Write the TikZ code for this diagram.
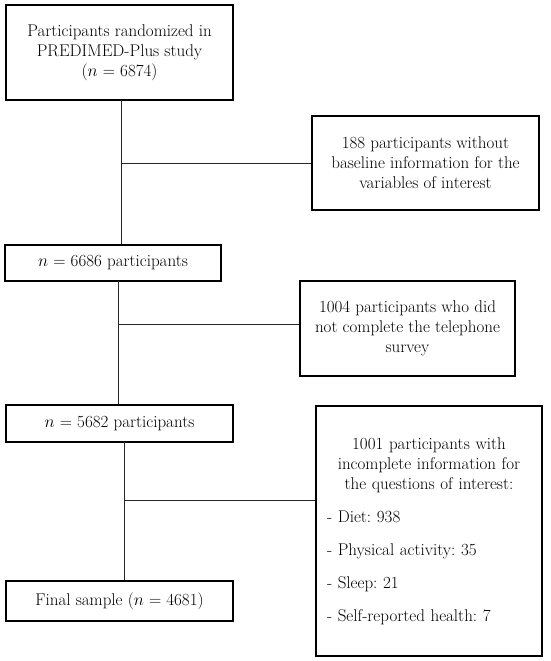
\documentclass[tikz,border=0pt]{standalone}
\usepackage{amsmath}

\tikzset{
  flowbox/.style={draw,line width=1.2pt,align=center,inner sep=2pt,
    font=\fontsize{17}{20}\selectfont\frenchspacing},
  link/.style={line width=0.9pt,black!85}
}

\begin{document}
\begin{tikzpicture}[x=1pt,y=1pt]

\useasboundingbox (0,0) rectangle (550,-661);

% main column
\node[flowbox,minimum width=227pt,minimum height=95pt] (start) at (119.5,-52.5)
  {Participants randomized in\\PREDIMED-Plus study\\($n$ = 6874)};
\node[flowbox,minimum width=216pt,minimum height=36pt] (n6686) at (113,-263)
  {$n$ = 6686 participants};
\node[flowbox,minimum width=227pt,minimum height=37pt] (n5682) at (119.5,-423.5)
  {$n$ = 5682 participants};
\node[flowbox,minimum width=227pt,minimum height=40pt] (final) at (119.5,-601)
  {Final sample ($n$ = 4681)};

% exclusions
\node[flowbox,minimum width=227pt,minimum height=94pt] (excl1) at (425.5,-163)
  {188 participants without\\baseline information for the\\variables of interest};
\node[flowbox,minimum width=215pt,minimum height=95pt] (excl2) at (407.5,-328.5)
  {1004 participants who did\\not complete the telephone\\survey};
\node[flowbox,minimum width=226pt,minimum height=250pt,text width=204pt,align=left] (excl3) at (429,-531)
  {\centering 1001 participants with\\incomplete information for\\the questions of interest:\par
   \raggedright\vspace{13pt}
   - Diet: 938\\[13pt]
   - Physical activity: 35\\[13pt]
   - Sleep: 21\\[13pt]
   - Self-reported health: 7\par};

% connectors
\coordinate (c1) at (121,-100);
\coordinate (c2) at (118,-281);
\coordinate (c3) at (124,-442);
\draw[link] (c1) -- (c1 |- n6686.north);
\draw[link] (c1 |- excl1.west) -- (excl1.west);
\draw[link] (c2) -- (c2 |- n5682.north);
\draw[link] (c2 |- 0,-324) coordinate (b2) -- (b2 -| excl2.west);
\draw[link] (c3) -- (c3 |- final.north);
\draw[link] (c3 |- 0,-500) coordinate (b3) -- (b3 -| excl3.west);

\end{tikzpicture}
\end{document}
